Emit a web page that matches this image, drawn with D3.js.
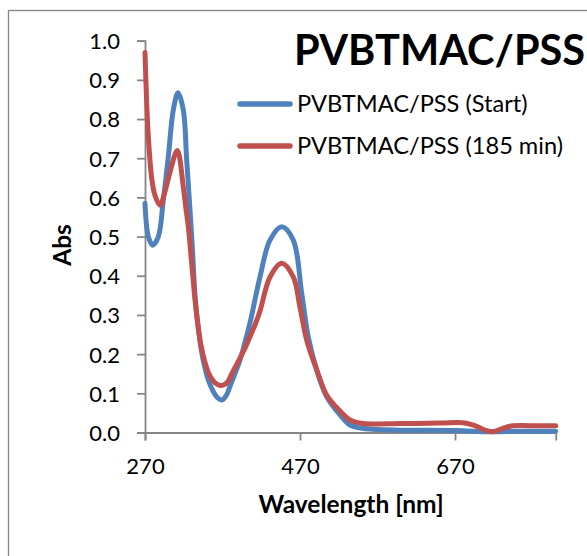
<!DOCTYPE html>
<html><head><meta charset="utf-8">
<script src="https://cdn.jsdelivr.net/npm/d3@7"></script>
<style>body{margin:0;background:#fff;}svg{display:block;}text{font-family:Lato,"Open Sans",sans-serif;fill:#000;}</style>
</head><body>
<script>
const title = "PVBTMAC/PSS";
const seriesNames = ["PVBTMAC/PSS (Start)", "PVBTMAC/PSS (185 min)"];
const seriesColors = ["#4F81BD", "#C0504D"];
const xTicks = [270, 470, 670];
const yTicks = [0.0,0.1,0.2,0.3,0.4,0.5,0.6,0.7,0.8,0.9,1.0];
const xLabel = "Wavelength [nm]";
const yLabel = "Abs";

const startWl  = [270,274.3,279.9,287.2,293.6,300.1,306.5,312.6,319.4,323.8,328.1,331.5,334.5,338.5,342.3,347,352,358,363,369,375,380,386,392.6,399,405.5,418.4,431.3,446.4,461.3,472.2,480.7,491.5,504.5,521.6,534.5,547,564,599,671,715,754,800];
const startAbs = [0.585,0.50,0.478,0.50,0.593,0.704,0.823,0.867,0.823,0.695,0.567,0.458,0.35,0.27,0.215,0.168,0.132,0.105,0.09,0.083,0.095,0.12,0.15,0.185,0.23,0.28,0.397,0.491,0.525,0.491,0.355,0.244,0.16,0.091,0.045,0.019,0.012,0.008,0.006,0.005,0.002,0.003,0.003];

const endWl  = [270,272.2,274.3,278.6,282.9,289.4,295.8,302.3,311.7,319.4,322.9,325.9,330.3,334.5,338.5,342.3,347,352,358,364,371,377,382,392.6,399,405.5,412,418.4,431.3,446.4,461.3,470,478.6,491.5,504.5,521.6,534.5,551.7,599,650.6,680,693.6,710.9,719,732.3,744.8,779.7,800];
const endAbs = [0.97,0.84,0.755,0.65,0.605,0.58,0.615,0.665,0.72,0.627,0.57,0.525,0.43,0.34,0.272,0.222,0.182,0.152,0.132,0.122,0.121,0.13,0.15,0.19,0.215,0.245,0.275,0.31,0.397,0.432,0.397,0.32,0.236,0.16,0.095,0.055,0.032,0.023,0.023,0.024,0.025,0.019,0.005,0.002,0.011,0.017,0.017,0.017];

const W = 587, H = 556;
const svg = d3.select("body").append("svg").attr("width", W).attr("height", H);

svg.append("rect").attr("x", 8.5).attr("y", 10.5).attr("width", 600).attr("height", 600)
  .attr("fill", "#fff").attr("stroke", "#868686").attr("stroke-width", 1.3);

const x = d3.scaleLinear().domain([270, 800]).range([145, 555.75]);
const y = d3.scaleLinear().domain([0, 1]).range([432.5, 40.7]);

const yAxis = svg.append("g").attr("transform", "translate(145,0)")
  .call(d3.axisLeft(y).tickValues(yTicks).tickFormat(d3.format(".1f")).tickSize(8).tickPadding(17));
const xAxis = svg.append("g").attr("transform", "translate(0,432.5)")
  .call(d3.axisBottom(x).tickValues(xTicks).tickFormat(d3.format("d")).tickSize(8).tickPadding(18));
[xAxis, yAxis].forEach(g => {
  g.select(".domain").attr("stroke", "#868686").attr("stroke-width", 1.8);
  g.selectAll(".tick line").attr("stroke", "#868686").attr("stroke-width", 1.8);
  g.selectAll(".tick text").attr("font-family", "Lato").attr("font-size", 22).attr("fill", "#000");
});
yAxis.selectAll(".tick text").attr("dy", "0.36em");
xAxis.selectAll(".tick text").attr("dy", "0.71em");

const line = d3.line().x(d => x(d[0])).y(d => y(d[1])).curve(d3.curveCatmullRom.alpha(0.5));
const series = [d3.zip(startWl, startAbs), d3.zip(endWl, endAbs)];
series.forEach((s, i) => {
  svg.append("path").datum(s).attr("d", line).attr("fill", "none")
    .attr("stroke", seriesColors[i]).attr("stroke-width", 5)
    .attr("stroke-linejoin", "round").attr("stroke-linecap", "round");
});

svg.append("text").attr("x", 294).attr("y", 65).attr("font-weight", 700)
  .attr("font-size", 41.5).text(title);

const legY = [104, 146];
seriesNames.forEach((n, i) => {
  svg.append("line").attr("x1", 240).attr("x2", 290).attr("y1", legY[i]).attr("y2", legY[i])
    .attr("stroke", seriesColors[i]).attr("stroke-width", 5.5).attr("stroke-linecap", "round");
  svg.append("text").attr("x", 297).attr("y", legY[i]).attr("dy", "0.36em")
    .attr("font-size", 23.6).text(n);
});

svg.append("text").attr("x", 351).attr("y", 513).attr("text-anchor", "middle")
  .attr("font-weight", 700).attr("font-size", 24.5).text(xLabel);
svg.append("text").attr("transform", "translate(71,245) rotate(-90)").attr("text-anchor", "middle")
  .attr("font-weight", 700).attr("font-size", 24.5).text(yLabel);
</script>
</body></html>
